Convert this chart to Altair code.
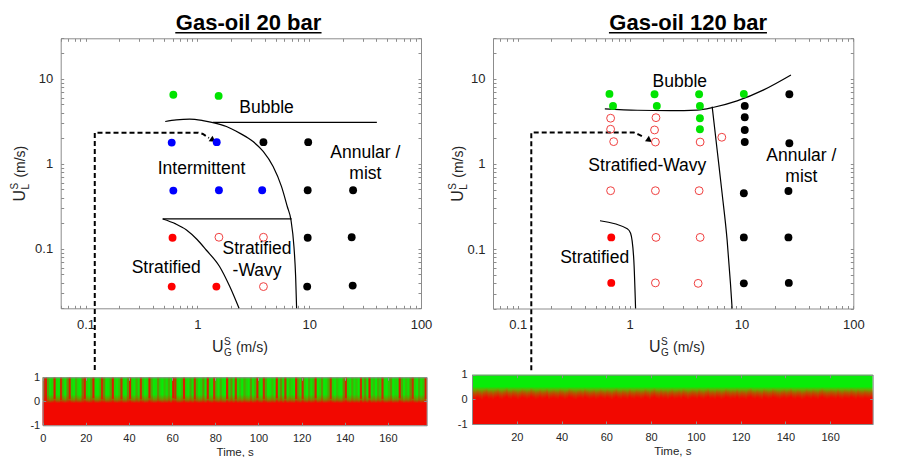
import altair as alt
import pandas as pd

W, H = 884, 449
FONT = "Liberation Sans"
GRAY = "#8c8c8c"
TXT = "#262626"
GREEN = "#08ec08"
RED = "#f20800"
REGIME_COLOR = {"B": "#00e400", "I": "#0000ff", "A": "#000000", "S": "#ff0000", "W": "#f04040"}

# ---------------- tick values ----------------
x_major = [0.1, 1, 10, 100]
x_all = [0.06, 0.07, 0.08, 0.09, 0.1, 0.2, 0.3, 0.4, 0.5, 0.6, 0.7, 0.8, 0.9, 1,
         2, 3, 4, 5, 6, 7, 8, 9, 10, 20, 30, 40, 50, 60, 70, 80, 90, 100]
y_major = [0.1, 1, 10]
y_all = [0.02, 0.03, 0.04, 0.05, 0.06, 0.07, 0.08, 0.09, 0.1, 0.2, 0.3, 0.4, 0.5,
         0.6, 0.7, 0.8, 0.9, 1, 2, 3, 4, 5, 6, 7, 8, 9, 10, 20, 30]
t_ticks_l = [0, 20, 40, 60, 80, 100, 120, 140, 160]
t_ticks_r = [20, 40, 60, 80, 100, 120, 140, 160]
lvl_ticks = [-1, 0, 1]

# ---------------- Gas-oil 20 bar ----------------
l20_x = [0.61, 1.55, 0.59, 1.49, 0.61, 1.56, 3.8, 3.9, 9.8, 9.7, 24.7, 9.7, 24.0, 9.6, 24.5,
         0.60, 0.59, 1.48, 1.56, 3.9, 3.9]
l20_y = [6.5, 6.3, 1.78, 1.8, 0.485, 0.49, 0.49, 1.8, 1.8, 0.49, 0.49, 0.135, 0.137, 0.036, 0.037,
         0.135, 0.036, 0.036, 0.137, 0.137, 0.036]
l20_regime = ["B", "B", "I", "I", "I", "I", "I", "A", "A", "A", "A", "A", "A", "A", "A",
              "S", "S", "S", "W", "W", "W"]
l20_ia_x = [0.516, 0.648, 0.853, 1.12, 1.38, 1.82, 2.39, 3.15, 3.88, 4.76, 5.66, 6.37, 6.87, 7.31, 7.57, 7.72]
l20_ia_y = [3.15, 3.29, 3.36, 3.23, 3.06, 2.75, 2.30, 1.83, 1.40, 0.93, 0.54, 0.315, 0.219, 0.106, 0.047, 0.020]
l20_bub_x = [1.38, 40.3]
l20_bub_y = [3.08, 3.08]
l20_swt_x = [0.49, 6.97]
l20_swt_y = [0.225, 0.225]
l20_ss_x = [0.49, 0.64, 0.80, 1.0, 1.2, 1.58, 1.95, 2.36]
l20_ss_y = [0.225, 0.197, 0.167, 0.128, 0.097, 0.062, 0.036, 0.020]
l20_dash_x = [0.121, 0.121, 1.01, 1.12, 1.27]
l20_dash_y = [0.00377, 2.33, 2.33, 2.25, 2.02]
l20_arrow = [1.38, 1.90]
l20_lab_t = ["Bubble", "Intermittent", "Annular /", "mist", "Stratified", "Stratified", "-Wavy"]
l20_lab_x = [4.16, 1.09, 31.8, 31.8, 0.527, 3.42, 3.42]
l20_lab_y = [4.6, 0.865, 1.34, 0.76, 0.060, 0.099, 0.0556]
l20_title = "Gas-oil 20 bar"
l20_title_xy = [2.87, 37.7]
l20_ul_x = [0.635, 12.9]
l20_ul_y = 34.8
l20_xt_xy = [1.35, 0.0062]
l20_yt_xy = [0.0288, 0.36]

# ---------------- Gas-oil 120 bar ----------------
r120_x = [0.66, 1.67, 4.18, 10.5, 0.71, 1.75, 4.25, 4.25, 4.25,
          26.8, 10.7, 10.7, 10.7, 10.7, 26.8, 10.5, 26.3, 10.5, 26.3, 10.5, 26.5,
          0.685, 0.685,
          0.676, 0.676, 0.72, 1.72, 1.67, 1.70, 4.27, 6.67, 0.676, 1.70, 4.18, 1.72, 4.27, 1.70, 4.10]
r120_y = [6.66, 6.6, 6.6, 6.66, 4.81, 4.81, 4.81, 3.45, 2.56,
          6.6, 4.81, 3.54, 2.51, 1.81, 1.75, 0.452, 0.481, 0.137, 0.137, 0.0395, 0.040,
          0.137, 0.040,
          3.45, 2.56, 1.83, 3.5, 2.51, 1.81, 1.81, 2.06, 0.485, 0.485, 0.485, 0.137, 0.137, 0.040, 0.0395]
r120_regime = ["B"] * 9 + ["A"] * 12 + ["S"] * 2 + ["W"] * 15
r120_bub_x = [0.60, 1.17, 2.32, 4.02, 5.66, 9.14, 15.8, 27.7]
r120_bub_y = [4.44, 4.28, 4.24, 4.30, 4.64, 5.51, 7.42, 11.1]
r120_ann_x = [5.47, 6.06, 6.71, 7.44, 7.97, 8.25]
r120_ann_y = [4.72, 1.46, 0.452, 0.128, 0.0395, 0.020]
r120_str_x = [0.543, 0.953, 1.02, 1.09, 1.13]
r120_str_y = [0.215, 0.173, 0.153, 0.074, 0.020]
r120_dash_x = [0.132, 0.132, 1.09, 1.21, 1.36]
r120_dash_y = [0.00377, 2.34, 2.34, 2.21, 2.04]
r120_arrow = [1.50, 1.90]
r120_lab_t = ["Bubble", "Stratified-Wavy", "Annular /", "mist", "Stratified"]
r120_lab_x = [2.81, 1.44, 34.3, 34.3, 0.487]
r120_lab_y = [9.2, 0.946, 1.24, 0.71, 0.078]
r120_title = "Gas-oil 120 bar"
r120_title_xy = [3.34, 37.7]
r120_ul_x = [0.653, 16.9]
r120_ul_y = 34.8
r120_xt_xy = [1.49, 0.0062]
r120_yt_xy = [0.0325, 0.36]

# ---------------- time strips ----------------
# left (20 bar): red level per second and red share of the upper part
ls_base = [0.05, 0.0, -0.05, -0.1, 0.0, 0.1, -0.05, -0.12, 0.05, 0.0, -0.08, 0.02, 0.1, -0.02, -0.1, 0.0, -0.05, -0.15, 0.03, 0.1,
           0.0, -0.1, -0.02, 0.12, -0.05, -0.15, 0.0, 0.08, 0.05, -0.1, -0.05, 0.0, 0.1, -0.03, -0.12, 0.0, 0.08, -0.05, -0.15, 0.02,
           0.1, 0.0, -0.1, 0.0, -0.05, 0.08, 0.02, -0.12, -0.03, 0.12, 0.0, -0.1, -0.05, 0.05, 0.0, -0.15, -0.02, -0.08, 0.03, -0.1,
           0.12, 0.1, -0.05, -0.15, 0.0, 0.1, -0.02, -0.1, 0.03, -0.05, 0.08, 0.0, -0.12, -0.02, 0.05, -0.15, 0.1, 0.0, -0.05, 0.08,
           0.0, -0.1, 0.02, -0.05, -0.15, 0.1, -0.02, 0.05, -0.1, 0.08, -0.05, 0.0, -0.15, 0.03, -0.03, -0.1, 0.05, -0.05, 0.0, 0.12,
           -0.02, -0.1, 0.1, 0.03, -0.15, -0.05, 0.0, -0.1, 0.12, -0.02, 0.05, -0.08, 0.1, -0.15, 0.0, -0.03, -0.1, 0.1, 0.02, -0.05,
           0.1, -0.02, -0.15, 0.03, -0.05, 0.0, 0.12, -0.1, -0.02, 0.05, -0.15, -0.05, 0.02, 0.1, 0.0, -0.1, 0.0, -0.05, -0.15, 0.05,
           0.12, 0.0, -0.1, 0.03, -0.05, 0.0, -0.15, 0.1, -0.02, 0.05, -0.1, 0.12, -0.05, 0.0, -0.15, 0.03, -0.02, 0.1, -0.05, -0.1,
           0.0, 0.05, -0.15, -0.02, -0.05, 0.12, 0.03, -0.1, 0.0, -0.05, 0.05, 0.1, -0.02, -0.15, 0.03, -0.05, 0.0, 0.1]
ls_mix = [0.9, 0.95, 0.5, 0.1, 0.3, 0.95, 0.2, 0.1, 0.9, 0.4, 0.05, 0.6, 0.95, 0.3, 0.1, 0.5, 0.2, 0.05, 0.7, 0.95,
          0.3, 0.1, 0.5, 0.95, 0.2, 0.05, 0.4, 0.9, 0.6, 0.1, 0.2, 0.5, 0.95, 0.3, 0.1, 0.4, 0.9, 0.2, 0.05, 0.6,
          0.95, 0.3, 0.1, 0.5, 0.2, 0.9, 0.4, 0.05, 0.3, 0.95, 0.5, 0.1, 0.2, 0.6, 0.3, 0.05, 0.4, 0.2, 0.5, 0.1,
          0.95, 0.9, 0.2, 0.05, 0.4, 0.95, 0.3, 0.1, 0.5, 0.2, 0.9, 0.4, 0.1, 0.3, 0.6, 0.05, 0.95, 0.3, 0.2, 0.9,
          0.4, 0.1, 0.5, 0.2, 0.05, 0.95, 0.3, 0.6, 0.1, 0.9, 0.2, 0.4, 0.05, 0.5, 0.3, 0.1, 0.6, 0.2, 0.4, 0.95,
          0.3, 0.1, 0.9, 0.5, 0.05, 0.2, 0.4, 0.1, 0.95, 0.3, 0.6, 0.2, 0.9, 0.05, 0.4, 0.3, 0.1, 0.95, 0.5, 0.2,
          0.9, 0.3, 0.05, 0.5, 0.2, 0.4, 0.95, 0.1, 0.3, 0.6, 0.05, 0.2, 0.5, 0.9, 0.3, 0.1, 0.4, 0.2, 0.05, 0.6,
          0.95, 0.3, 0.1, 0.5, 0.2, 0.4, 0.05, 0.9, 0.3, 0.6, 0.1, 0.95, 0.2, 0.4, 0.05, 0.5, 0.3, 0.9, 0.2, 0.1,
          0.4, 0.6, 0.05, 0.3, 0.2, 0.95, 0.5, 0.1, 0.4, 0.2, 0.6, 0.9, 0.3, 0.05, 0.5, 0.2, 0.4, 0.95]
# right (120 bar): level of the oil/gas interface per second
rs_level = [0.42, 0.38, 0.45, 0.40, 0.35, 0.44, 0.48, 0.39, 0.41, 0.36, 0.43, 0.47, 0.40, 0.37, 0.44, 0.50, 0.41, 0.38, 0.45, 0.42,
            0.36, 0.40, 0.46, 0.43, 0.38, 0.41, 0.49, 0.44, 0.37, 0.40, 0.45, 0.39, 0.42, 0.47, 0.36, 0.41, 0.44, 0.40, 0.38, 0.46,
            0.43, 0.37, 0.41, 0.48, 0.44, 0.39, 0.36, 0.42, 0.45, 0.40, 0.47, 0.43, 0.38, 0.41, 0.44, 0.37, 0.40, 0.46, 0.42, 0.39,
            0.45, 0.41, 0.36, 0.43, 0.48, 0.40, 0.38, 0.44, 0.42, 0.37, 0.46, 0.41, 0.39, 0.45, 0.43, 0.38, 0.40, 0.47, 0.42, 0.36,
            0.44, 0.49, 0.41, 0.38, 0.45, 0.40, 0.43, 0.37, 0.42, 0.46, 0.39, 0.41, 0.44, 0.38, 0.47, 0.42, 0.36, 0.40, 0.45, 0.43,
            0.39, 0.46, 0.41, 0.37, 0.44, 0.48, 0.40, 0.42, 0.38, 0.45, 0.43, 0.36, 0.41, 0.47, 0.44, 0.39, 0.42, 0.40, 0.46, 0.38,
            0.43, 0.41, 0.37, 0.45, 0.49, 0.42, 0.39, 0.44, 0.40, 0.36, 0.46, 0.43, 0.38, 0.41, 0.47, 0.44, 0.40, 0.37, 0.42, 0.45,
            0.39, 0.43, 0.48, 0.41, 0.38, 0.44, 0.42, 0.36, 0.40, 0.46, 0.43, 0.39, 0.45, 0.41, 0.37, 0.44, 0.48, 0.42, 0.38, 0.40,
            0.45, 0.43, 0.39, 0.46, 0.41, 0.37, 0.44, 0.42, 0.40, 0.47, 0.43, 0.38, 0.45, 0.41, 0.39, 0.44, 0.42, 0.40, 0.43]
strip_title = "Time, s"
ls_tmax = 178
rs_tmax = 179

# ---------------- layout (plot-area pixels) ----------------
PL_X, PL_Y = [52.7, 413.0], [300.3, 30.3]
PR_X, PR_Y = [485.0, 845.3], [300.5, 30.3]
SL_X, SL_Y = [34.7, 418.7], [417.3, 369.3]
SR_X, SR_Y = [464.0, 864.7], [416.0, 366.7]


def axis_set(L, R, B, T, xmaj, xall, ymaj, yall, fs, xpad, ypad, xextra, yextra, z=0):
    com = dict(grid=False, domainColor=GRAY, tickColor=GRAY, domainWidth=1, tickWidth=1, zindex=z)
    lab = dict(labelFont=FONT, labelFontSize=fs, labelColor=TXT, labelFlush=False, labelOverlap=False)
    ax1 = alt.Axis(orient="bottom", offset=B - H, values=xmaj, ticks=False, domain=True,
                   labelPadding=xpad, **lab, **com, **xextra)
    ax2 = alt.Axis(orient="top", offset=-B, values=xall, labels=False, ticks=True, tickSize=3,
                   domain=False, title=None, **com)
    ax3 = alt.Axis(orient="bottom", offset=T - H, values=xall, labels=False, ticks=True, tickSize=3,
                   domain=True, title=None, **com)
    ay1 = alt.Axis(orient="left", offset=-L, values=ymaj, ticks=False, domain=True,
                   labelPadding=ypad, **lab, **com, **yextra)
    ay2 = alt.Axis(orient="right", offset=L - W, values=yall, labels=False, ticks=True, tickSize=3,
                   domain=False, title=None, **com)
    ay3 = alt.Axis(orient="left", offset=-R, values=yall, labels=False, ticks=True, tickSize=3,
                   domain=True, title=None, **com)
    return ax1, ax2, ax3, ay1, ay2, ay3


def rich_text(xs, ys, xy, parts, angle):
    df = pd.DataFrame({"x": [xy[0]], "y": [xy[1]]})
    out = []
    for txt, dx, dy, fs in parts:
        out.append(
            alt.Chart(df).mark_text(text=txt, dx=dx, dy=dy, fontSize=fs, font=FONT, align="left",
                                    baseline="alphabetic", angle=angle, color=TXT)
            .encode(x=alt.X("x:Q", scale=xs, axis=None), y=alt.Y("y:Q", scale=ys, axis=None))
        )
    return out


def panel(xr, yr, px, py, pk, segs, dash_x, dash_y, arrow_xy, lab_t, lab_x, lab_y,
          title, title_xy, ul_x, ul_y, xt_xy, yt_xy, sub_y):
    xs = alt.Scale(type="log", domain=[0.06, 100], range=xr, nice=False)
    ys = alt.Scale(type="log", domain=[0.02, 30], range=yr, nice=False)
    ax1, ax2, ax3, ay1, ay2, ay3 = axis_set(
        xr[0], xr[1], yr[0], yr[1], x_major, x_all, y_major, y_all, 13, 10, 8,
        dict(title=None, format="~g"), dict(title=None, format="~g"))

    def X(f, ax=None):
        return alt.X(f, type="quantitative", scale=xs, axis=ax)

    def Y(f, ax=None):
        return alt.Y(f, type="quantitative", scale=ys, axis=ax)

    pts = pd.DataFrame({"x": px, "y": py, "k": pk})
    pts["col"] = pts["k"].map(REGIME_COLOR)
    filled = pts[pts["k"] != "W"]
    opened = pts[pts["k"] == "W"]

    rows = []
    for name, (sx, sy) in segs.items():
        for i, (a, b) in enumerate(zip(sx, sy)):
            rows.append({"seg": name, "ord": i, "x": a, "y": b})
    seg_df = pd.DataFrame(rows)
    dash_df = pd.DataFrame({"x": dash_x, "y": dash_y, "ord": list(range(len(dash_x)))})
    arrow_df = pd.DataFrame({"x": [arrow_xy[0]], "y": [arrow_xy[1]]})
    lab_df = pd.DataFrame({"x": lab_x, "y": lab_y, "t": lab_t})
    title_df = pd.DataFrame({"x": [title_xy[0]], "y": [title_xy[1]], "t": [title]})
    ul_df = pd.DataFrame({"x0": [ul_x[0]], "x1": [ul_x[1]], "y": [ul_y]})

    lines = alt.Chart(seg_df).mark_line(color="black", strokeWidth=1.2, interpolate="monotone").encode(
        x=X("x", ax3), y=Y("y", ay3), detail="seg:N", order="ord:Q")
    dash = alt.Chart(dash_df).mark_line(color="black", strokeWidth=2, strokeDash=[5, 3]).encode(
        x=X("x"), y=Y("y"), order="ord:Q")
    arrow = alt.Chart(arrow_df).mark_point(shape="triangle-right", filled=True, size=45, angle=35,
                                           color="black", opacity=1).encode(x=X("x"), y=Y("y"))
    dots = alt.Chart(filled).mark_circle(size=62, opacity=1).encode(
        x=X("x", ax1), y=Y("y", ay1), color=alt.Color("col:N", scale=None))
    rings = alt.Chart(opened).mark_point(shape="circle", filled=False, size=62, strokeWidth=1,
                                         color=REGIME_COLOR["W"], opacity=1).encode(
        x=X("x", ax2), y=Y("y", ay2))
    labels = alt.Chart(lab_df).mark_text(font=FONT, fontSize=17.5, color="black").encode(
        x=X("x"), y=Y("y"), text="t:N")
    ttl = alt.Chart(title_df).mark_text(font=FONT, fontSize=22, fontWeight="bold", color="black",
                                        baseline="alphabetic").encode(x=X("x"), y=Y("y"), text="t:N")
    ul = alt.Chart(ul_df).mark_rule(color="black", strokeWidth=1.6).encode(
        x=X("x0"), x2=alt.X2("x1"), y=Y("y"))
    xt = rich_text(xs, ys, xt_xy, [("U", 0, 0, 16), ("S", 12, -7, 10), ("G", 12, 4, 10), ("(m/s)", 24, 0, 14)], 0)
    yt = rich_text(xs, ys, yt_xy, [("U", 0, 0, 16), ("S", 12, -7, 10), (sub_y, 12, 4, 10), ("(m/s)", 24, 0, 14)], 270)
    return alt.layer(lines, dash, arrow, dots, rings, labels, ttl, ul, *xt, *yt).resolve_axis(
        x="independent", y="independent")


def grad(stops):
    return alt.LinearGradient(gradient="linear", x1=0, x2=0, y1=0, y2=1,
                              stops=[alt.GradientStop(color=c, offset=o) for c, o in stops])


def strip_axes(xr, yr, ticks, ypad):
    return axis_set(xr[0], xr[1], yr[0], yr[1], ticks, ticks, lvl_ticks, lvl_ticks, 11, 7, ypad,
                    dict(title=strip_title, titleFont=FONT, titleFontSize=11.5, titleFontWeight="normal",
                         titleColor=TXT, titlePadding=3),
                    dict(title=None, labelExpr="'' + datum.value"), z=1)


def strip_left():
    xs = alt.Scale(domain=[0, ls_tmax], range=SL_X, nice=False, zero=False)
    ys = alt.Scale(domain=[-1, 1], range=SL_Y, nice=False, zero=False)
    ax1, ax2, ax3, ay1, ay2, ay3 = strip_axes(SL_X, SL_Y, t_ticks_l, 3)
    t = list(range(len(ls_mix)))
    df = pd.DataFrame({"t": t, "t1": [v + 1 for v in t], "base": ls_base, "mix": ls_mix})
    df["top"] = 1
    df["bot"] = -1
    bg_df = pd.DataFrame({"x0": [0], "x1": [ls_tmax], "y0": [-1], "y1": [1]})
    bg = alt.Chart(bg_df).mark_rect(
        fill=grad([(GREEN, 0), (GREEN, 0.36), ("#6e9600", 0.46), (RED, 0.54), (RED, 1)]), strokeWidth=0
    ).encode(x=alt.X("x0:Q", scale=xs, axis=ax1), x2="x1:Q", y=alt.Y("y0:Q", scale=ys, axis=ay1), y2="y1:Q")
    over = alt.Chart(df).mark_rect(fill=RED, strokeWidth=0).encode(
        x=alt.X("t:Q", scale=xs, axis=ax2), x2="t1:Q", y=alt.Y("base:Q", scale=ys, axis=ay2), y2="top:Q",
        opacity=alt.Opacity("mix:Q", scale=alt.Scale(type="pow", exponent=1.8, domain=[0, 1], range=[0, 1]),
                            legend=None))
    base = alt.Chart(df).mark_rect(
        fill=grad([("rgba(242,8,0,0.25)", 0), (RED, 0.18), (RED, 1)]), strokeWidth=0
    ).encode(x=alt.X("t:Q", scale=xs, axis=ax3), x2="t1:Q", y=alt.Y("bot:Q", scale=ys, axis=ay3), y2="base:Q")
    return alt.layer(bg, over, base).resolve_axis(x="independent", y="independent")


def strip_right():
    xs = alt.Scale(domain=[0, rs_tmax], range=SR_X, nice=False, zero=False)
    ys = alt.Scale(domain=[-1, 1], range=SR_Y, nice=False, zero=False)
    ax1, ax2, ax3, ay1, ay2, ay3 = strip_axes(SR_X, SR_Y, t_ticks_r, 5)
    t = list(range(len(rs_level)))
    df = pd.DataFrame({"t": t, "t1": [v + 1 for v in t], "lvl": rs_level})
    df["bot"] = -1
    bg_df = pd.DataFrame({"x0": [0], "x1": [rs_tmax], "y0": [-1], "y1": [1]})
    bg = alt.Chart(bg_df).mark_rect(
        fill=grad([(GREEN, 0), (GREEN, 0.24), ("#5fb000", 0.30), ("#a06000", 0.38), (RED, 0.46), (RED, 1)]),
        strokeWidth=0
    ).encode(x=alt.X("x0:Q", scale=xs, axis=ax1), x2="x1:Q", y=alt.Y("y0:Q", scale=ys, axis=ay1), y2="y1:Q")
    bars = alt.Chart(df).mark_rect(
        fill=grad([("rgba(140,140,0,0.0)", 0), ("rgba(190,80,0,0.6)", 0.1), (RED, 0.27), (RED, 1)]),
        strokeWidth=0
    ).encode(x=alt.X("t:Q", scale=xs, axis=ax2), x2="t1:Q", y=alt.Y("bot:Q", scale=ys, axis=ay2), y2="lvl:Q")
    frame = alt.Chart(bg_df).mark_rect(fillOpacity=0, strokeWidth=0).encode(
        x=alt.X("x0:Q", scale=xs, axis=ax3), x2="x1:Q", y=alt.Y("y0:Q", scale=ys, axis=ay3), y2="y1:Q")
    return alt.layer(bg, bars, frame).resolve_axis(x="independent", y="independent")


p20 = panel(PL_X, PL_Y, l20_x, l20_y, l20_regime,
            {"ia": (l20_ia_x, l20_ia_y), "bub": (l20_bub_x, l20_bub_y),
             "swt": (l20_swt_x, l20_swt_y), "ss": (l20_ss_x, l20_ss_y)},
            l20_dash_x, l20_dash_y, l20_arrow, l20_lab_t, l20_lab_x, l20_lab_y,
            l20_title, l20_title_xy, l20_ul_x, l20_ul_y, l20_xt_xy, l20_yt_xy, "L")
p120 = panel(PR_X, PR_Y, r120_x, r120_y, r120_regime,
             {"bub": (r120_bub_x, r120_bub_y), "ann": (r120_ann_x, r120_ann_y),
              "str": (r120_str_x, r120_str_y)},
             r120_dash_x, r120_dash_y, r120_arrow, r120_lab_t, r120_lab_x, r120_lab_y,
             r120_title, r120_title_xy, r120_ul_x, r120_ul_y, r120_xt_xy, r120_yt_xy, "L")

chart = alt.layer(p20, p120, strip_left(), strip_right()).resolve_scale(
    x="independent", y="independent"
).properties(
    width=W, height=H, padding=0, autosize=alt.AutoSizeParams(type="none")
).configure_view(strokeWidth=0)

chart.save("out.html", embed_options={"renderer": "svg", "actions": False})
